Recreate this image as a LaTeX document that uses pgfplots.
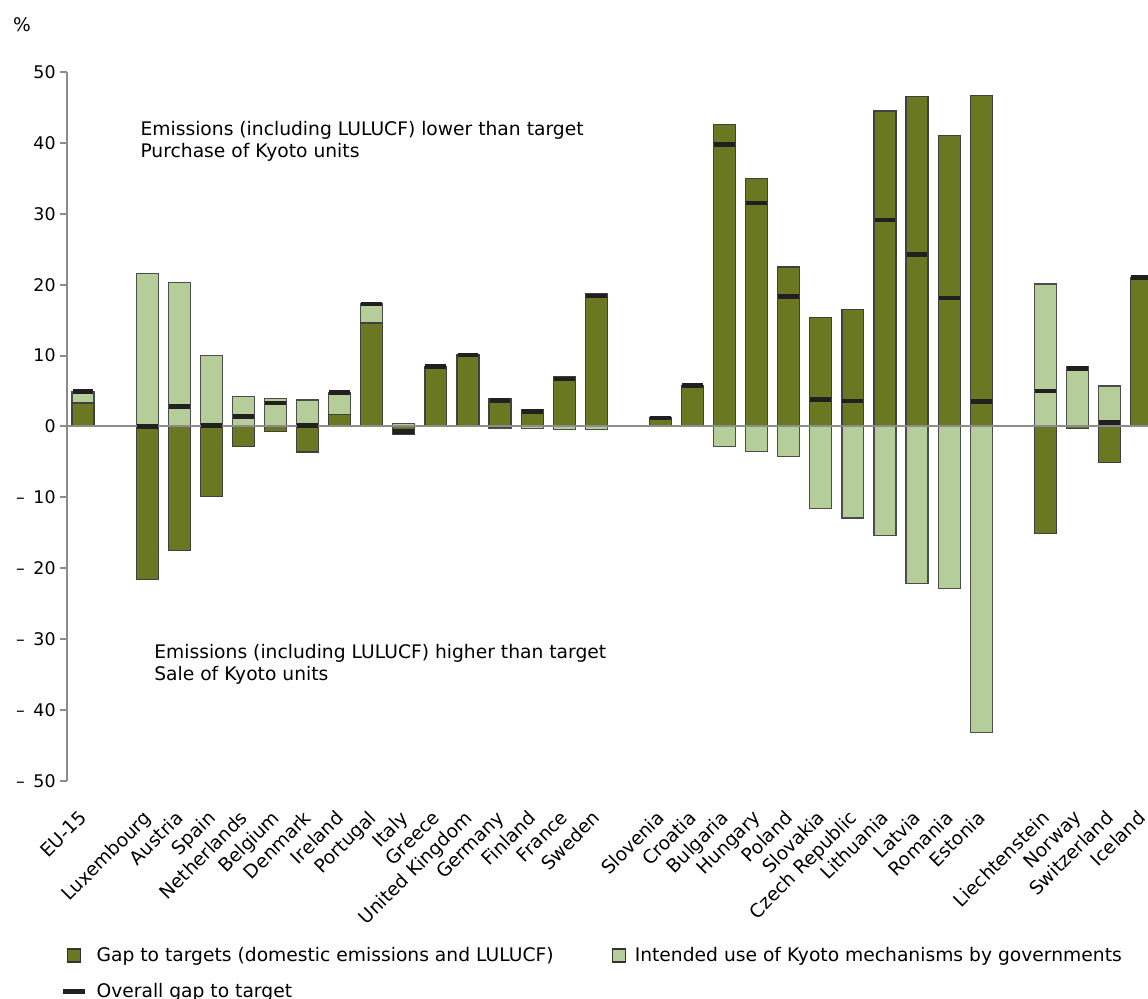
\documentclass[border=0pt]{standalone}
\usepackage{fontspec}
\setmainfont{DejaVu Sans}
\usepackage{pgfplots}
\pgfplotsset{compat=1.18}
\usepackage{pgfplotstable}

\definecolor{gapgreen}{HTML}{6B7822}
\definecolor{kyotogreen}{HTML}{B5CD99}
\definecolor{overall}{HTML}{231F20}
\definecolor{axisgray}{HTML}{8C8C8C}
\newcommand{\lab}{\fontsize{9.35pt}{11pt}\selectfont}
\newcommand{\num}{\fontsize{8.7pt}{10.4pt}\selectfont}

% x = slot, dark = gap to target, light = Kyoto mechanisms, total = overall gap
\pgfplotstableread{
x dark light total
0 3.3 1.6 4.9
2 -21.6 21.6 0.0
3 -17.5 20.3 2.8
4 -9.9 10.0 0.1
5 -2.8 4.2 1.4
6 -0.7 4.0 3.3
7 -3.6 3.75 0.15
8 1.7 3.1 4.8
9 14.6 2.7 17.3
10 -1.1 0.4 -0.7
11 8.5 0 8.5
12 10.1 0 10.1
13 3.9 -0.2 3.7
14 2.4 -0.3 2.1
15 7.1 -0.4 6.7
16 18.8 -0.4 18.4
18 1.2 0 1.2
19 5.8 0 5.8
20 42.6 -2.8 39.8
21 35.0 -3.5 31.5
22 22.5 -4.2 18.3
23 15.4 -11.6 3.8
24 16.5 -12.9 3.6
25 44.5 -15.4 29.1
26 46.5 -22.2 24.3
27 41.0 -22.9 18.1
28 46.7 -43.2 3.5
30 -15.1 20.1 5.0
31 -0.3 8.5 8.2
32 -5.1 5.7 0.6
33 21.0 0 21.0
}\gaps

\begin{document}
\begin{tikzpicture}
\begin{axis}[
  at={(0,0)}, anchor=south west,
  scale only axis, width=540.5pt, height=354.5pt,
  xmin=-0.5, xmax=33.2, ymin=-50, ymax=50,
  axis lines*=left,
  x axis line style={draw=none},
  y axis line style={axisgray, line width=1pt},
  tick align=outside, major tick length=3.5pt,
  major y tick style={axisgray, line width=1pt},
  major x tick style={draw=none},
  ytick={-50,-40,-30,-20,-10,0,10,20,30,40,50},
  yticklabels={–\enspace50,–\enspace40,–\enspace30,–\enspace20,–\enspace10,0,10,20,30,40,50},
  yticklabel style={font=\num, inner sep=2pt},
  xtick={0,2,3,4,5,6,7,8,9,10,11,12,13,14,15,16,18,19,20,21,22,23,24,25,26,27,28,30,31,32,33},
  xticklabels={EU-15,Luxembourg,Austria,Spain,Netherlands,Belgium,Denmark,Ireland,Portugal,Italy,Greece,United Kingdom,Germany,Finland,France,Sweden,Slovenia,Croatia,Bulgaria,Hungary,Poland,Slovakia,Czech Republic,Lithuania,Latvia,Romania,Estonia,Liechtenstein,Norway,Switzerland,Iceland},
  xticklabel style={font=\lab, xshift=-2.5pt, yshift=-9pt, rotate=45, anchor=north east, inner sep=1pt},
  legend columns=2,
  legend cell align=left,
  legend style={at={(-0.0115,-0.222)}, anchor=north west, draw=none, fill=none,
    font=\lab, row sep=5.5pt,
    /tikz/every odd column/.append style={column sep=2.5pt},
    /tikz/every even column/.append style={column sep=27pt}},
]
\addlegendimage{legend image code/.code={\draw[fill=gapgreen, draw=black!80, line width=0.6pt] (0pt,-3.25pt) rectangle (6.5pt,3.25pt);}}
\addlegendentry{Gap to targets (domestic emissions and LULUCF)}
\addlegendimage{legend image code/.code={\draw[fill=kyotogreen, draw=black!80, line width=0.6pt] (0pt,-3.25pt) rectangle (6.5pt,3.25pt);}}
\addlegendentry{Intended use of Kyoto mechanisms by governments}
\addlegendimage{legend image code/.code={\draw[overall, line width=2.3pt] (-2pt,0pt) -- (9pt,0pt);}}
\addlegendentry{Overall gap to target}

\addplot[forget plot, ybar, bar width=0.685, bar shift=0pt, fill=kyotogreen, draw=black!70, line width=0.6pt]
  table[x=x, y expr={ifthenelse(\thisrow{dark}*\thisrow{light}>0, \thisrow{dark}+\thisrow{light}, \thisrow{light})}] {\gaps};
\addplot[forget plot, ybar, bar width=0.685, bar shift=0pt, fill=gapgreen, draw=black!75, line width=0.6pt]
  table[x=x, y=dark] {\gaps};
\addplot[forget plot, only marks, mark=-, mark size=5.2pt, mark options={line width=2.3pt, overall}]
  table[x=x, y=total] {\gaps};
\draw[axisgray, line width=1pt] (axis cs:-0.5,0) -- (axis cs:33.2,0);

\node[anchor=west, align=left, font=\lab, inner sep=0pt] at (axis cs:1.78,40.15)
  {Emissions (including LULUCF) lower than target\\Purchase of Kyoto units};
\node[anchor=west, align=left, font=\lab, inner sep=0pt] at (axis cs:2.21,-33.6)
  {Emissions (including LULUCF) higher than target\\Sale of Kyoto units};
\end{axis}
\node[font=\lab] at (-22.5pt,378pt) {\%};
\pgfresetboundingbox
\useasboundingbox (-33.5pt,-108.5pt) rectangle (540.5pt,390.5pt);
\end{tikzpicture}
\end{document}
